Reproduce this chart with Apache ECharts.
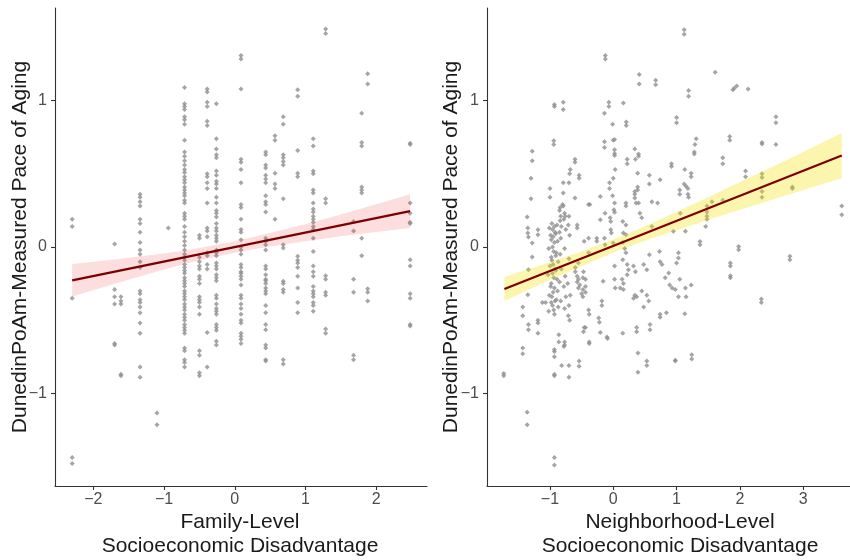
<!DOCTYPE html>
<html><head><meta charset="utf-8">
<script src="https://cdn.jsdelivr.net/npm/echarts@6/dist/echarts.min.js"></script>
<style>html,body{margin:0;padding:0;background:#fff}#c{width:850px;height:560px}</style>
</head><body><div id="c"></div>
<script>
// ---- Family-level panel: discrete x columns and their y values ----
const famColX = [-2.30, -1.70, -1.61, -1.34, -1.10, -0.94, -0.71, -0.50, -0.39, -0.26, 0.088, 0.437, 0.569, 0.686, 0.89, 1.11, 1.285, 1.68, 1.795, 1.88, 2.48];
const famColY = [
  [0.19, 0.14, -0.35, -1.44, -1.48],
  [0.02, -0.29, -0.34, -0.39, -0.66, -0.67],
  [-0.34, -0.37, -0.39, -0.87, -0.88],
  [0.36, 0.34, 0.31, 0.28, 0.19, 0.16, 0.10, 0.03, -0.02, -0.05, -0.10, -0.14, -0.30, -0.32, -0.36, -0.38, -0.41, -0.45, -0.52, -0.59, -0.82, -0.89],
  [-1.135, -1.215],
  [0.13],
  [1.09, 0.98, 0.96, 0.94, 0.89, 0.87, 0.84, 0.73, 0.65, 0.62, 0.59, 0.56, 0.53, 0.51, 0.48, 0.46, 0.44, 0.41, 0.39, 0.37, 0.35, 0.32, 0.30, 0.23, 0.21, 0.19, 0.14, 0.10, 0.07, 0.04, 0.01, -0.02, -0.05, -0.07, -0.09, -0.12, -0.14, -0.16, -0.18, -0.21, -0.23, -0.25, -0.27, -0.30, -0.32, -0.34, -0.36, -0.39, -0.41, -0.43, -0.46, -0.48, -0.50, -0.53, -0.55, -0.57, -0.59, -0.69, -0.71, -0.77, -0.79, -0.82],
  [0.08, 0.06, -0.07, -0.10, -0.13, -0.15, -0.20, -0.22, -0.25, -0.34, -0.36, -0.38, -0.41, -0.46, -0.71, -0.74, -0.86, -0.88],
  [1.08, 1.06, 0.99, 0.96, 0.86, 0.83, 0.50, 0.48, 0.44, 0.40, 0.30, 0.13, 0.11, 0.07, -0.04, -0.06, -0.12, -0.15, -0.585, -0.82],
  [0.98, 0.74, 0.67, 0.63, 0.61, 0.52, 0.49, 0.45, 0.43, 0.40, 0.34, 0.30, 0.25, 0.23, 0.205, 0.16, 0.13, 0.11, 0.08, 0.06, 0.04, -0.02, -0.04, -0.06, -0.11, -0.13, -0.15, -0.19, -0.21, -0.23, -0.33, -0.35, -0.39, -0.42, -0.44, -0.46, -0.53, -0.55, -0.57, -0.645, -0.67],
  [1.31, 1.285, 1.08, 0.60, 0.58, 0.53, 0.44, 0.29, 0.27, 0.19, 0.12, 0.10, 0.05, 0.0, -0.02, -0.05, -0.12, -0.14, -0.17, -0.18, -0.20, -0.22, -0.26, -0.33, -0.35, -0.39, -0.42, -0.46, -0.50, -0.52, -0.59, -0.61, -0.63, -0.66],
  [0.65, 0.63, 0.56, 0.54, 0.49, 0.465, 0.44, 0.35, 0.31, 0.29, 0.24, 0.06, 0.04, 0.015, -0.02, -0.13, -0.15, -0.19, -0.22, -0.23, -0.25, -0.28, -0.30, -0.32, -0.40, -0.45, -0.53, -0.565, -0.67, -0.69, -0.77, -0.78],
  [0.76, 0.73, 0.505, 0.43, 0.40, 0.19],
  [0.89, 0.84, 0.63, 0.61, 0.585, 0.56, 0.33, 0.016, -0.007, -0.235, -0.25, -0.29, -0.31, -0.77, -0.80],
  [1.075, 1.03, 0.66, 0.505, 0.48, -0.064, -0.09, -0.11, -0.14, -0.20, -0.28, -0.38, -0.45],
  [0.74, 0.69, 0.52, 0.50, 0.39, 0.37, 0.30, 0.26, 0.24, 0.21, 0.19, 0.17, 0.14, 0.12, 0.06, -0.03, -0.13, -0.17, -0.20, -0.27, -0.30, -0.32, -0.34, -0.38, -0.40, -0.44],
  [1.49, 1.46, 0.33, 0.30, -0.196, -0.22, -0.31, -0.33, -0.56, -0.59],
  [0.175, 0.11, -0.22, -0.31, -0.74, -0.77],
  [0.915, 0.715, 0.69, 0.41, 0.39, 0.37, 0.06, -0.06],
  [1.185, 1.115, -0.285, -0.31, -0.37],
  [0.71, 0.70, 0.30, 0.23, 0.17, 0.16, -0.087, -0.13, -0.32, -0.35, -0.53, -0.54]
];

// ---- Neighborhood-level panel points ----
const nbhX = [1.12,1.12,-0.126,-0.126,0.41,0.41,0.67,0.67,1.61,1.89,1.91,1.95,2.13,1.19,1.19,-0.93,-0.93,-0.79,-0.79,-0.07,-0.07,-0.14,0.16,1.0,1.0,-0.01,0.205,0.205,2.57,2.57,
 -0.94,-0.94,-0.14,-0.14,0.0,0.02,1.31,1.29,1.84,1.84,2.35,2.35,2.57,-1.28,-1.28,0.02,0.02,0.02,0.34,0.40,0.40,0.35,1.28,1.28,-0.605,-0.605,0.22,0.22,1.73,1.73,0.92,0.92,
 -0.68,-0.69,-0.54,-0.54,0.03,1.13,1.23,1.23,2.09,2.09,-1.30,0.385,0.57,0.57,0.74,0.0,-0.06,-0.06,0.385,0.385,-1.0,-1.0,-0.79,-0.79,-0.70,1.12,1.15,1.18,1.05,1.05,1.18,1.19,
 2.35,2.35,2.35,2.35,2.83,2.83,-1.30,-0.79,-0.80,-0.605,-0.39,-0.37,-0.205,-0.01,0.02,0.20,0.20,0.34,0.34,0.34,0.36,0.40,0.61,0.70,1.56,1.73,1.48,1.48,1.48,1.48,1.46,3.61,3.61,
 -1.36,-1.35,-1.35,-1.34,-1.19,-1.19,-1.28,-1.28,-1.34,-1.35,-1.43,-1.43,-1.34,-1.34,-1.19,-1.19,-1.19,
 -0.97,-0.93,-0.96,-0.92,-0.95,-0.98,-0.93,-0.96,-0.94,-0.91,-0.97,-0.95,-0.92,-0.96,-0.94,-0.98,-0.93,-0.95,-0.97,-0.92,-0.96,-0.94,-0.93,
 -1.01,-0.99,-1.02,-0.98,-1.00,-1.03,-0.99,-1.01,-0.98,-1.02,
 -0.89,-0.91,-0.88,-0.90,-0.87,-0.91,-0.89,-0.88,-0.90,-0.87,
 -0.84,-0.85,-0.83,-0.84,-0.82,-0.85,-0.83,-0.84,-0.82,-0.85,-0.83,
 -0.77,-0.76,-0.78,-0.75,-0.77,-0.76,-0.78,-0.75,-0.77,
 -0.70,-0.71,-0.69,-0.70,-0.72,-0.68,-0.70,-0.71,-0.69,
 -1.07,-1.12,
 -0.60,-0.60,-0.57,-0.55,-0.57,-0.53,-0.55,-0.48,-0.44,-0.44,-0.48,-0.50,-0.48,-0.44,-0.57,-0.57,-0.55,-0.47,-0.46,-0.39,-0.39,-0.26,-0.26,-0.205,-0.13,-0.05,-0.04,0.01,0.02,-0.04,-0.03,-0.14,-0.13,0.0,
 0.02,0.02,0.03,-0.16,-0.18,-0.18,-0.23,-0.22,-0.39,-0.38,-0.46,-0.44,-0.10,0.15,0.15,0.18,0.20,0.15,0.20,0.16,0.20,0.14,0.16,0.11,0.16,0.22,0.24,0.22,0.32,0.35,0.34,0.37,0.32,
 0.42,0.45,0.48,0.53,0.45,0.53,0.56,0.48,0.37,0.37,0.58,0.58,0.61,0.57,0.73,0.74,0.77,0.82,0.875,0.89,0.93,0.98,1.03,0.74,0.74,0.84,0.95,1.14,1.03,1.03,1.0,1.05,1.14,1.15,1.23,1.13,
 1.37,1.37,1.85,1.85,1.85,1.85,1.98,1.98,2.34,2.34,2.79,2.79,1.06,
 -1.73,-1.73,-1.43,-1.43,-1.36,-1.36,-0.93,-0.93,-0.93,-0.93,-0.93,-0.93,-0.93,-0.86,-0.86,-0.77,-0.77,-0.78,-0.815,-0.70,-0.70,-0.54,-0.54,-0.47,-0.38,-0.38,-0.205,-0.09,0.15,0.39,0.39,0.53,0.53,0.98,0.98,1.24,1.24];
const nbhY = [1.485,1.455,1.31,1.285,1.18,1.115,1.14,1.11,1.195,1.075,1.085,1.10,1.08,1.07,1.03,0.975,0.96,0.99,0.94,0.99,0.96,0.915,0.985,0.885,0.85,0.84,0.855,0.83,0.89,0.85,
 0.727,0.70,0.72,0.68,0.73,0.735,0.74,0.70,0.755,0.73,0.715,0.705,0.70,0.655,0.59,0.665,0.64,0.625,0.67,0.635,0.62,0.60,0.65,0.635,0.60,0.58,0.60,0.57,0.61,0.57,0.57,0.55,
 0.53,0.50,0.49,0.47,0.53,0.53,0.505,0.48,0.52,0.48,0.47,0.505,0.49,0.43,0.46,0.47,0.44,0.40,0.41,0.39,0.40,0.34,0.44,0.37,0.44,0.43,0.415,0.40,0.39,0.36,0.36,0.34,
 0.50,0.475,0.38,0.34,0.41,0.40,0.33,0.28,0.29,0.335,0.29,0.29,0.345,0.35,0.30,0.30,0.28,0.38,0.36,0.335,0.30,0.30,0.31,0.30,0.31,0.32,0.28,0.24,0.21,0.19,0.14,0.28,0.22,
 0.205,0.13,0.095,0.068,0.118,0.084,0.027,-0.068,-0.155,-0.326,-0.41,-0.47,-0.53,-0.565,-0.50,-0.52,-0.59,
 0.16,0.14,0.12,0.10,0.07,0.05,0.03,0.00,-0.03,-0.06,-0.09,-0.12,-0.15,-0.18,-0.21,-0.25,-0.28,-0.31,-0.34,-0.37,-0.40,-0.43,-0.46,
 0.13,0.08,-0.01,-0.07,-0.13,-0.19,-0.27,-0.33,-0.38,-0.44,
 0.15,0.09,0.04,-0.04,-0.10,-0.16,-0.22,-0.30,-0.36,-0.41,
 0.27,0.25,0.21,0.18,0.14,0.10,0.06,-0.05,-0.15,-0.24,-0.37,
 0.23,0.21,0.19,0.12,-0.01,-0.20,-0.27,-0.34,-0.42,
 0.21,0.15,0.08,-0.08,-0.25,-0.33,-0.40,-0.47,-0.50,
 -0.38,-0.38,
 -0.14,-0.17,-0.20,-0.22,-0.24,-0.26,-0.28,-0.29,-0.27,-0.22,-0.21,-0.32,-0.34,-0.31,0.15,0.13,-0.11,-0.17,0.04,0.06,-0.04,0.06,0.04,0.187,0.23,0.20,0.175,0.255,0.237,0.118,0.096,0.06,0.016,0.027,
 -0.13,-0.22,-0.28,-0.235,-0.37,-0.40,-0.485,-0.515,-0.43,-0.46,-0.55,-0.55,-0.615,-0.087,0.03,-0.01,-0.04,0.175,0.15,0.095,0.084,-0.22,-0.25,-0.28,-0.29,-0.12,-0.155,-0.19,-0.13,-0.17,-0.33,-0.34,-0.35,
 0.23,0.20,-0.12,-0.155,-0.30,-0.33,-0.37,-0.41,-0.55,-0.58,-0.53,-0.565,0.14,-0.053,-0.03,-0.10,-0.12,-0.21,-0.178,-0.26,-0.28,-0.29,-0.34,-0.46,-0.48,-0.45,0.107,0.107,-0.04,-0.075,-0.11,-0.22,-0.28,-0.34,-0.26,-0.456,
 0.038,0.016,-0.11,-0.13,-0.196,-0.21,0.004,-0.018,-0.355,-0.38,-0.064,-0.087,0.23,
 -0.865,-0.88,-0.69,-0.73,-1.13,-1.215,-0.70,-0.715,-0.75,-0.87,-0.88,-1.44,-1.49,-0.60,-0.65,-0.65,-0.67,-0.68,-0.81,-0.81,-0.89,-0.78,-0.815,-0.58,-0.65,-0.66,-0.585,-0.625,-0.59,-0.725,-0.857,-0.78,-0.81,-0.775,-0.78,-0.736,-0.766];

// ---- Fitted lines and confidence bands ----
const famFitX = [-2.30, 2.48];
const famFitY = [-0.228, 0.245];
const famBandX  = [-2.30, -1.90, -1.50, -1.10, -0.70, -0.35, 0.00, 0.35, 0.70, 1.10, 1.50, 2.00, 2.48];
const famBandLo = [-0.339, -0.280, -0.224, -0.167, -0.114, -0.075, -0.040, -0.008, 0.019, 0.047, 0.073, 0.103, 0.130];
const famBandHi = [-0.117, -0.096, -0.074, -0.050, -0.024, 0.006, 0.040, 0.078, 0.119, 0.169, 0.223, 0.292, 0.360];

const nbhFitX = [-1.72, 3.61];
const nbhFitY = [-0.287, 0.626];
const nbhBandX  = [-1.72, -1.40, -1.00, -0.50, 0.00, 0.50, 1.00, 1.50, 2.00, 2.50, 3.00, 3.61];
const nbhBandLo = [-0.369, -0.305, -0.224, -0.131, -0.038, 0.042, 0.115, 0.186, 0.254, 0.322, 0.390, 0.470];
const nbhBandHi = [-0.205, -0.160, -0.104, -0.029, 0.052, 0.142, 0.241, 0.340, 0.444, 0.546, 0.650, 0.780];

// ---- Tick labels ----
const famXTicks = [-2, -1, 0, 1, 2];
const nbhXTicks = [-1, 0, 1, 2, 3];
const yTicks = [-1, 0, 1];
const famXTitle = 'Family-Level\nSocioeconomic Disadvantage';
const nbhXTitle = 'Neighborhood-Level\nSocioeconomic Disadvantage';
const yTitle = 'DunedinPoAm-Measured Pace of Aging';

const FONT = "'Liberation Sans', Arial, sans-serif";
const fmt = v => v < 0 ? '\u2212' + Math.abs(v) : String(v);

const famPts = [];
famColX.forEach((x, i) => famColY[i].forEach(y => famPts.push([x, y])));
const nbhPts = nbhX.map((x, i) => [x, nbhY[i]]);

function xAxis(idx, min, max, ticks) {
  return {
    type: 'value', gridIndex: idx, min: min, max: max,
    axisLine: { show: true, onZero: false, lineStyle: { color: '#333', width: 1.1 } },
    axisTick: { show: true, length: 4, lineStyle: { color: '#333', width: 1.1 }, customValues: ticks },
    axisLabel: { customValues: ticks, formatter: fmt, color: '#4d4d4d', fontSize: 16, fontFamily: FONT, margin: 6 },
    splitLine: { show: false }
  };
}
function yAxis(idx) {
  return {
    type: 'value', gridIndex: idx, min: -1.634, max: 1.634,
    axisLine: { show: true, onZero: false, lineStyle: { color: '#333', width: 1.1 } },
    axisTick: { show: true, length: 4, lineStyle: { color: '#333', width: 1.1 }, customValues: yTicks },
    axisLabel: { customValues: yTicks, formatter: fmt, color: '#4d4d4d', fontSize: 16, fontFamily: FONT, margin: 8 },
    splitLine: { show: false }
  };
}
function band(idx, bx, lo, hi, color) {
  return {
    type: 'custom', xAxisIndex: idx, yAxisIndex: idx, z: 3, silent: true,
    data: [[bx[0], lo[0]]],
    renderItem: function (params, api) {
      const pts = [];
      for (let i = 0; i < bx.length; i++) pts.push(api.coord([bx[i], hi[i]]));
      for (let i = bx.length - 1; i >= 0; i--) pts.push(api.coord([bx[i], lo[i]]));
      return { type: 'polygon', shape: { points: pts }, style: { fill: color } };
    }
  };
}
function fit(idx, fx, fy) {
  return {
    type: 'line', xAxisIndex: idx, yAxisIndex: idx, z: 4, silent: true,
    data: fx.map((x, i) => [x, fy[i]]), symbol: 'none',
    lineStyle: { color: '#7a0000', width: 2.2 }
  };
}
function pts(idx, data) {
  return {
    type: 'scatter', xAxisIndex: idx, yAxisIndex: idx, z: 2, silent: true,
    data: data, symbol: 'diamond', symbolSize: 5,
    itemStyle: { color: '#8e8e8e' }
  };
}

const chart = echarts.init(document.getElementById('c'), null, { renderer: 'canvas' });
chart.setOption({
  animation: false,
  backgroundColor: '#fff',
  grid: [
    { left: 55, top: 8, width: 372, height: 478 },
    { left: 487, top: 8, width: 363, height: 478 }
  ],
  xAxis: [xAxis(0, -2.543, 2.719, famXTicks), xAxis(1, -1.995, 3.74, nbhXTicks)],
  yAxis: [yAxis(0), yAxis(1)],
  series: [
    pts(0, famPts), band(0, famBandX, famBandLo, famBandHi, 'rgba(240,60,60,0.17)'), fit(0, famFitX, famFitY),
    pts(1, nbhPts), band(1, nbhBandX, nbhBandLo, nbhBandHi, 'rgba(245,225,0,0.32)'), fit(1, nbhFitX, nbhFitY)
  ],
  graphic: [
    { type: 'text', x: 20, y: 247, rotation: Math.PI / 2,
      style: { text: yTitle, fontSize: 21, fontFamily: FONT, fill: '#1a1a1a', textAlign: 'center', textVerticalAlign: 'middle' } },
    { type: 'text', x: 451, y: 247, rotation: Math.PI / 2,
      style: { text: yTitle, fontSize: 21, fontFamily: FONT, fill: '#1a1a1a', textAlign: 'center', textVerticalAlign: 'middle' } },
    { type: 'text', x: 240, y: 534,
      style: { text: famXTitle, fontSize: 21, lineHeight: 24.5, fontFamily: FONT, fill: '#1a1a1a', textAlign: 'center', textVerticalAlign: 'middle' } },
    { type: 'text', x: 680, y: 534,
      style: { text: nbhXTitle, fontSize: 21, lineHeight: 24.5, fontFamily: FONT, fill: '#1a1a1a', textAlign: 'center', textVerticalAlign: 'middle' } }
  ]
});
</script></body></html>
